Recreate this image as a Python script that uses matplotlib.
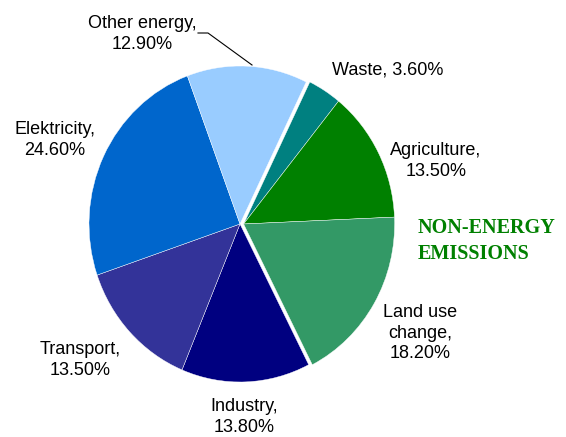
import matplotlib.pyplot as plt

# emission shares by source, clockwise from the top
sources = ["Waste", "Agriculture", "Land use\nchange", "Industry",
           "Transport", "Elektricity", "Other energy"]
shares = [3.6, 13.5, 18.2, 13.8, 13.5, 24.6, 12.9]
colors = ["#008080", "#008000", "#339966", "#000080",
          "#333399", "#0066CC", "#99CCFF"]
non_energy = 3  # first three slices are pulled out together

W, H = 566, 437
fig = plt.figure(figsize=(W / 100, H / 100), dpi=100)
ax = fig.add_axes([0, 0, 1, 1])

wedges, _ = ax.pie(shares, colors=colors, startangle=64, counterclock=False,
                   wedgeprops=dict(edgecolor="white", linewidth=0.3))
for w in wedges[:non_energy]:
    w.set_center((0.024, 0.0))

# pie is a little taller than wide
cx, cy, rx, ry = 240, 224, 151, 158
ax.set_aspect("auto")
ax.set_xlim(-cx / rx, (W - cx) / rx)
ax.set_ylim(-(H - cy) / ry, cy / ry)
ax.axis("off")

# label spots, pixel centres
spots = [(388, 70), (436, 161), (420, 333), (244, 417),
         (80, 360), (55, 140), (142, 34)]
for name, val, (px, py) in zip(sources, shares, spots):
    if name == "Waste":
        txt = f"{name}, {val:.2f}%"
    else:
        txt = f"{name},\n{val:.2f}%"
    ax.text(px / W, 1 - py / H, txt, transform=ax.transAxes,
            ha="center", va="center", fontsize=13,
            family="Liberation Sans", linespacing=1.3)

# leader line for the top slice
ax.plot([198 / W, 208 / W, 252 / W], [1 - 33 / H, 1 - 33 / H, 1 - 65 / H],
        color="black", lw=0.8, transform=ax.transAxes)

ax.text(418 / W, 1 - 241 / H, "NON-ENERGY\nEMISSIONS", transform=ax.transAxes,
        ha="left", va="center", fontsize=14.5, fontweight="bold",
        family="Liberation Serif", color="#008000", linespacing=1.4)

fig.savefig("out.png", dpi=100)
